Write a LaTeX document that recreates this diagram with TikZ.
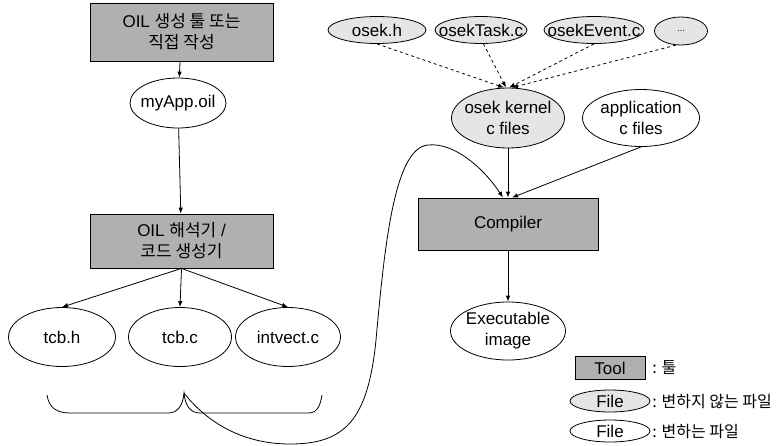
\documentclass[tikz,border=0pt]{standalone}
\usepackage{fontspec}
\setmainfont{Liberation Sans}
\newfontfamily\kr{Noto Sans CJK KR}
\usetikzlibrary{shapes.geometric,arrows.meta}
\begin{document}
\begin{tikzpicture}[x=1pt,y=-1pt,
  font=\fontsize{17}{21}\selectfont,
  line width=0.8pt,
  toolbox/.style={draw, fill=gray!62, inner sep=0pt, align=center},
  file/.style={draw, ellipse, inner sep=-20pt, align=center},
  cfile/.style={file, fill=gray!20},
  arr/.style={-{Latex[length=6pt,width=4.5pt]}},
  darr/.style={arr, dash pattern=on 3pt off 3pt}]
\useasboundingbox (0,0) rectangle (783,445);

% left column
\node[toolbox, minimum width=183pt, minimum height=58pt] (gen) at (181.5,32)
  {OIL {\kr 생성 툴 또는}\\{\kr 직접 작성}};
\node[file, minimum width=96pt, minimum height=50pt] (app) at (178,103) {myApp.oil};
\node[toolbox, minimum width=183pt, minimum height=54pt] (parser) at (181.5,241)
  {OIL {\kr 해석기} /\\{\kr 코드 생성기}};
\node[file, minimum width=107pt, minimum height=59pt] (tcbh) at (62,337) {tcb.h};
\node[file, minimum width=103pt, minimum height=59pt] (tcbc) at (180,337) {tcb.c};
\node[file, minimum width=105pt, minimum height=59pt] (intv) at (288,337) {intvect.c};

\draw[arr] (gen) -- (app);
\draw[arr] (app) -- (parser);
\draw[arr] (parser.south) -- (tcbh.north);
\draw[arr] (parser.south) -- (tcbc.north);
\draw[arr] (parser.south) -- (intv.north);

% right column
\node[cfile, minimum width=98pt, minimum height=27pt] (oh) at (377,30) {osek.h};
\node[cfile, minimum width=92pt, minimum height=27pt] (ot) at (481,30) {osekTask.c};
\node[cfile, minimum width=100pt, minimum height=27pt] (oh2) at (594,30) {osekEvent.c};
\node[cfile, minimum width=53pt, minimum height=28pt] (od) at (681,31) {\fontsize{9}{10}\selectfont ...};

\node[cfile, minimum width=113pt, minimum height=60pt] (kern) at (508,118) {osek kernel\\c files};
\node[file, minimum width=117pt, minimum height=57pt] (appc) at (641,118) {application\\c files};
\node[toolbox, minimum width=180pt, minimum height=52pt] (comp) at (508,224) {Compiler};
\node[file, minimum width=115pt, minimum height=58pt] (exe) at (508,331) {Executable\\image};

\draw[darr] (oh.south) -- ([xshift=-4pt]kern.north);
\draw[darr] (ot.-80) -- ([xshift=-2pt]kern.north);
\draw[darr] (oh2.south) -- ([xshift=1pt]kern.north);
\draw[darr] (od.250) -- ([xshift=4pt]kern.north);

\draw[arr] (kern) -- (comp);
\draw[arr] (appc.south) -- ([xshift=4pt]comp.north);
\draw[arr] (comp) -- (exe);

% brace and curve
\coordinate (bl) at (47,395);
\coordinate (br) at (322,395);
\coordinate (tip) at (184,393);
\draw (bl) .. controls (49,408) and (57,413) .. (70,413) -- (168,413)
  .. controls (178,413) and (183,405) .. (tip)
  .. controls (185,405) and (190,413) .. (200,413) -- (308,413)
  .. controls (316,413) and (320,408) .. (br);
\draw[arr] (tip) .. controls (205,420) and (240,444) .. (290,444)
  .. controls (345,444) and (368,420) .. (376,340)
  .. controls (385,240) and (395,148) .. (428,145)
  .. controls (455,142) and (485,170) .. ([xshift=-5pt]comp.north);

% legend
\node[toolbox, minimum width=70pt, minimum height=23pt] (lt) at (610,368) {Tool};
\node[cfile, minimum width=80pt, minimum height=22pt] (lf1) at (610,401) {File};
\node[file, minimum width=80pt, minimum height=22pt] (lf2) at (610,431) {File};
\node[anchor=west, inner sep=0pt] (lt1) at (652,368) {\kr\fontsize{16}{20}\selectfont : 툴};
\node[anchor=west, inner sep=0pt] (lt2) at (652,401) {\kr\fontsize{16}{20}\selectfont : 변하지 않는 파일};
\node[anchor=west, inner sep=0pt] (lt3) at (652,431) {\kr\fontsize{16}{20}\selectfont : 변하는 파일};
\end{tikzpicture}
\end{document}
